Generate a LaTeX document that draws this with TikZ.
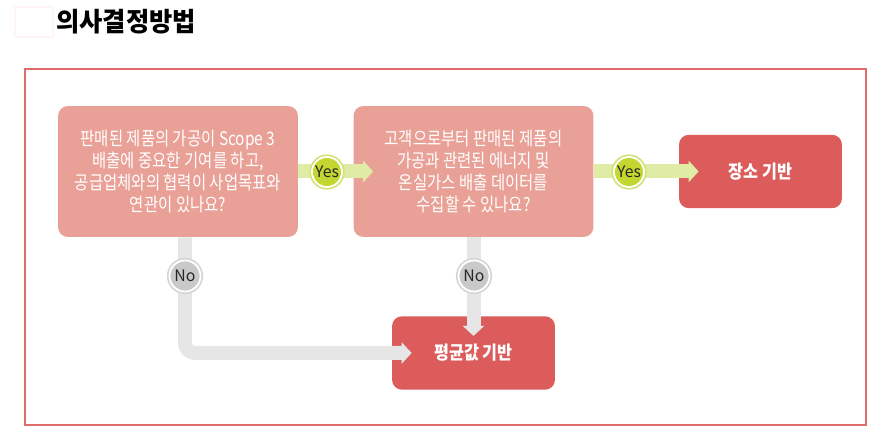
\documentclass[tikz,border=0pt]{standalone}
\usepackage{fontspec}
\setmainfont{Noto Sans CJK KR}
\newfontfamily\boxfont{Noto Sans CJK KR}[FakeStretch=0.83]
\newfontfamily\headfont{Noto Sans CJK KR}[FakeStretch=0.88]
\newfontfamily\titlefont{Noto Sans CJK KR}[FakeStretch=0.96]
\usetikzlibrary{positioning,arrows.meta}
\definecolor{qfill}{HTML}{E9A197}
\definecolor{rfill}{HTML}{DC5B5B}
\definecolor{framered}{HTML}{DF6B6B}
\definecolor{yesline}{HTML}{E0EBA6}
\definecolor{yesfill}{HTML}{C4D630}
\definecolor{yesring}{HTML}{D3E37A}
\definecolor{noline}{HTML}{E6E6E6}
\definecolor{nofill}{HTML}{C9C9C9}
\definecolor{noring}{HTML}{D6D6D6}
\tikzset{
  question/.style={rounded corners=0.2cm, fill=qfill, minimum width=4.8cm, minimum height=2.62cm, align=center, text=white, font=\boxfont\fontsize{10.6}{12.65}\selectfont},
  result/.style={rounded corners=0.2cm, fill=rfill, minimum width=3.26cm, minimum height=1.47cm, align=center, text=white, font=\headfont\bfseries\fontsize{10.5}{12}\selectfont},
  yesarrow/.style={-{Triangle[length=0.2cm, width=0.42cm]}, line width=0.28cm, draw=yesline},
  noarrow/.style={-{Triangle[length=0.2cm, width=0.42cm]}, line width=0.28cm, draw=noline, rounded corners=0.2cm},
  yesdot/.style={circle, fill=yesfill, draw=white, line width=1pt, preaction={draw=yesring, line width=3pt}, minimum size=0.6cm, inner sep=0pt, text=black!85, font=\fontsize{9}{10}\selectfont},
  nodot/.style={circle, fill=nofill, draw=white, line width=1pt, preaction={draw=noring, line width=3pt}, minimum size=0.62cm, inner sep=0pt, text=black!85, font=\fontsize{9}{10}\selectfont}
}
\begin{document}
\begin{tikzpicture}[x=0.02cm, y=-0.02cm]
  \useasboundingbox (0,0) rectangle (887,442);
  % heading
  \draw[red!4, line width=0.6pt] (15,7) rectangle (53,37);
  \node[anchor=west, inner sep=0pt, font=\titlefont\bfseries\fontsize{15}{18}\selectfont] (title) at (56,22) {의사결정방법};
  \draw[framered, line width=1.5pt] (25,69) rectangle (866,425);
  % boxes
  \node[question] (q1) at (178,171.5) {판매된 제품의 가공이 Scope 3\\배출에 중요한 기여를 하고,\\공급업체와의 협력이 사업목표와\\연관이 있나요?};
  \node[question] (q2) at (473.5,171.5) {고객으로부터 판매된 제품의\\가공과 관련된 에너지 및\\온실가스 배출 데이터를\\수집할 수 있나요?};
  \node[result] (r1) at (760.5,171.5) {장소 기반};
  \node[result] (r2) at (473.5,353) {평균값 기반};
  % connectors
  \draw[yesarrow] (q1.east) -- ([xshift=0.4cm]q2.west);
  \draw[yesarrow] (q2.east) -- ([xshift=0.4cm]r1.west);
  \draw[noarrow] ([xshift=0.14cm]q1.south) |- ([xshift=0.4cm]r2.west);
  \draw[noarrow] (q2.south) -- ([yshift=-0.4cm]r2.north);
  % answer marks
  \node[yesdot] (y1) at (327,172) {Yes};
  \node[yesdot] (y2) at (629,172) {Yes};
  \node[nodot] (n1) at (185,276) {No};
  \node[nodot] (n2) at (474,276) {No};
\end{tikzpicture}
\end{document}
